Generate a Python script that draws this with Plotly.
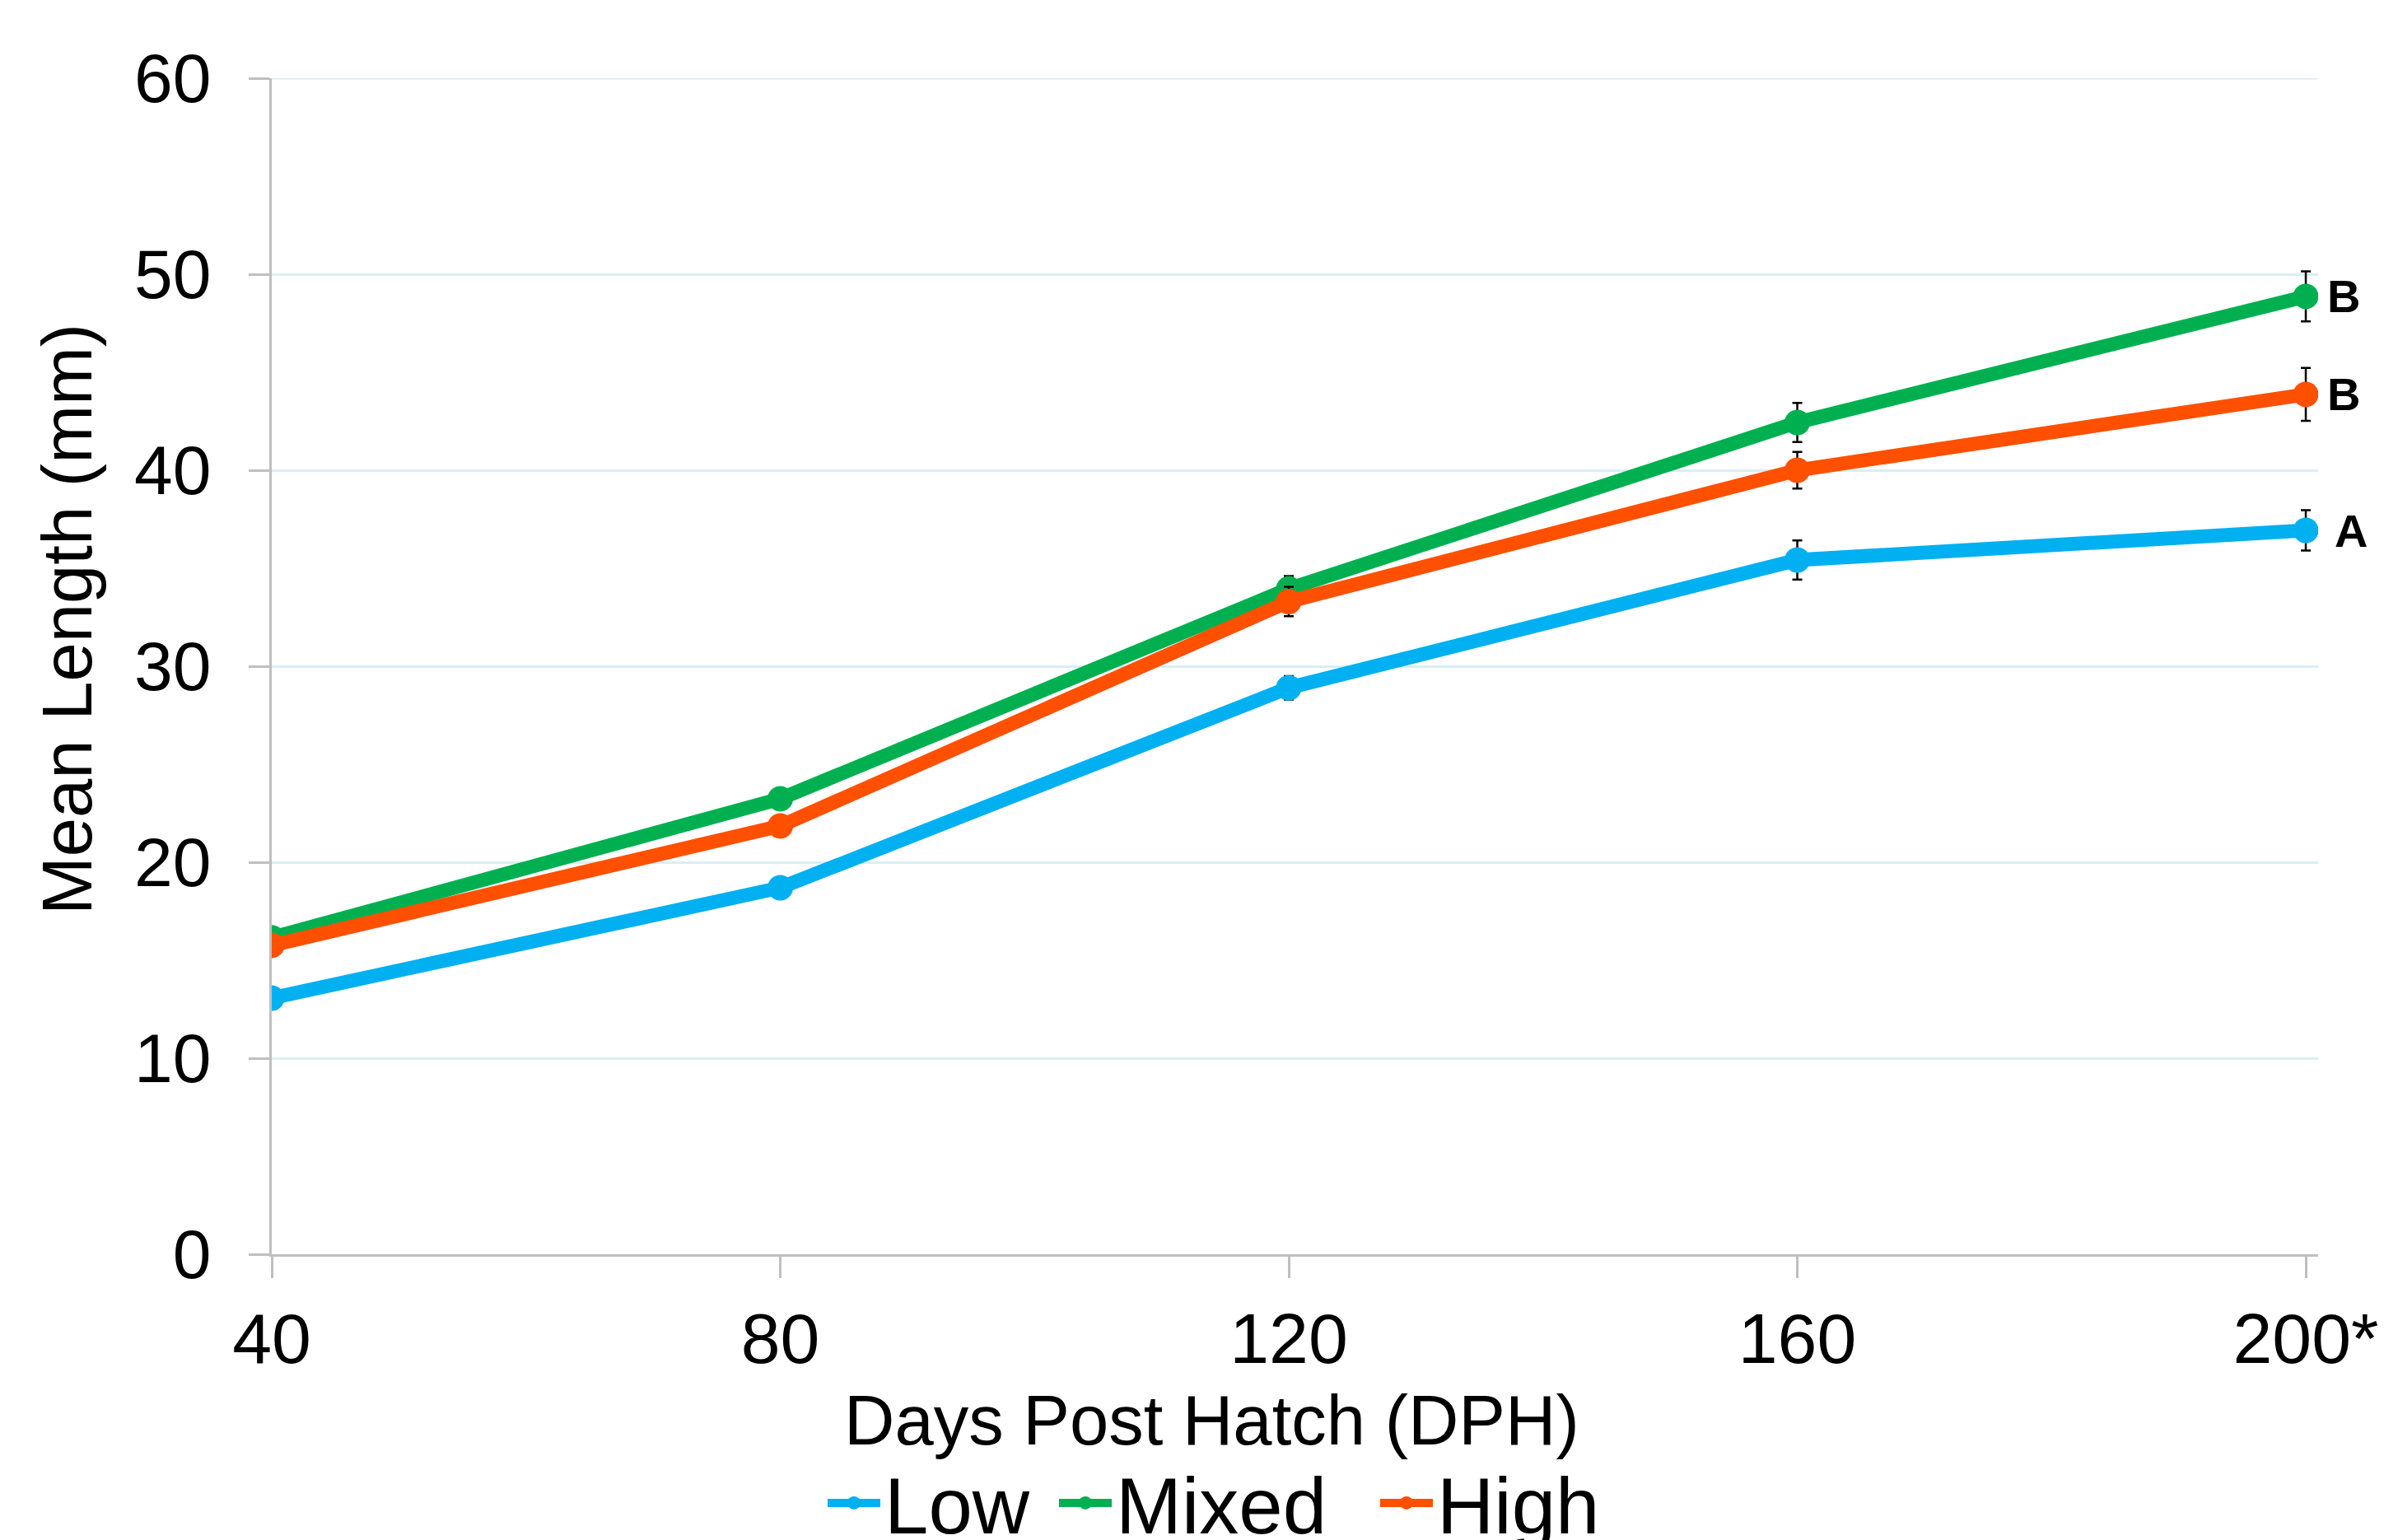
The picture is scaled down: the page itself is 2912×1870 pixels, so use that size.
import plotly.graph_objects as go

# ---- data ----
dph = [40, 80, 120, 160, 200]
dph_labels = ["40", "80", "120", "160", "200*"]
low = [13.07, 18.7, 28.9, 35.42, 36.93]
mixed = [16.15, 23.24, 33.95, 42.44, 48.87]
high = [15.76, 21.85, 33.3, 40.0, 43.87]
low_err = [0.3, 0.3, 0.6, 1.0, 1.03]
mixed_err = [0.3, 0.3, 0.65, 1.0, 1.28]
high_err = [0.3, 0.3, 0.75, 0.94, 1.35]
series_names = ["Low", "Mixed", "High"]
series_vals = [low, mixed, high]
series_errs = [low_err, mixed_err, high_err]
series_colors = ["#00B0F0", "#00B050", "#FF5000"]
group_letters = ["A", "B", "B"]
letter_shift = [33, 24, 24]
y_ticks = [0, 10, 20, 30, 40, 50, 60]

FONT = "Liberation Sans, Arial, sans-serif"
OFF = 8  # default page body margin
L, R, T, B = 330 - OFF, 97, 95 - OFF, 347
W, H = 2912 - OFF, 1870 - OFF
PW = W - L - R
PH = H - T - B

legend_ids = ["legend", "legend2", "legend3"]
legend_left_px = [1000, 1281, 1671]

fig = go.Figure()
for name, vals, errs, col, lg in zip(series_names, series_vals, series_errs,
                                     series_colors, legend_ids):
    fig.add_trace(go.Scatter(
        x=dph, y=vals, name=name, mode="lines+markers",
        line=dict(color=col, width=17),
        marker=dict(color=col, size=31),
        error_y=dict(type="data", array=errs, visible=True,
                     color="black", thickness=2.5, width=6),
        legend=lg,
    ))

annotations = []
for vals, letter, sh in zip(series_vals, group_letters, letter_shift):
    annotations.append(dict(
        x=dph[-1], y=vals[-1], xref="x", yref="y", text="<b>%s</b>" % letter,
        showarrow=False, xanchor="left", yanchor="middle", xshift=sh,
        font=dict(family=FONT, size=56, color="black"),
    ))

# axis titles
annotations.append(dict(
    x=(1471 - 330) / PW, y=-0.141, xref="paper", yref="paper",
    text="Days Post Hatch (DPH)", showarrow=False, xanchor="center", yanchor="middle",
    font=dict(family=FONT, size=85, color="black"),
))
annotations.append(dict(
    x=(81 - 330) / PW, y=(1523 - 752) / PH, xref="paper", yref="paper",
    text="Mean Length (mm)", showarrow=False, xanchor="center", yanchor="middle",
    textangle=-90, font=dict(family=FONT, size=85, color="black"),
))

legend_common = dict(
    orientation="h", xanchor="left", yanchor="middle",
    y=(1523 - 1825) / PH,
    font=dict(family=FONT, size=96, color="black"),
    itemwidth=64, tracegroupgap=0, bgcolor="rgba(0,0,0,0)",
)
legends = {}
for lg, lx in zip(legend_ids, legend_left_px):
    legends[lg] = dict(legend_common, x=(lx - 330) / PW)

fig.update_layout(
    width=W, height=H,
    margin=dict(l=L, r=R, t=T, b=B, autoexpand=False),
    paper_bgcolor="white", plot_bgcolor="white",
    font=dict(family=FONT, color="black"),
    showlegend=True,
    annotations=annotations,
    **legends,
)

# top gridline (at the range edge)
fig.add_shape(type="line", xref="paper", yref="y", x0=0, x1=1,
              y0=y_ticks[-1], y1=y_ticks[-1],
              line=dict(color="#D6ECF4", width=3), layer="above")

fig.update_xaxes(
    range=[40, 200.97], tickmode="array", tickvals=dph, ticktext=dph_labels,
    showgrid=False, zeroline=False, showline=True, linecolor="#BFBFBF", linewidth=2.5,
    ticks="outside", ticklen=26, tickwidth=2.5, tickcolor="#BFBFBF",
    tickfont=dict(family=FONT, size=86, color="black"), ticklabelstandoff=0,
)
fig.update_yaxes(
    range=[0, 60], tickmode="array", tickvals=y_ticks,
    showgrid=True, gridcolor="#D9EEF5", gridwidth=2.5, zeroline=False,
    showline=True, linecolor="#BFBFBF", linewidth=2.5,
    ticks="outside", ticklen=25, tickwidth=2.5, tickcolor="#BFBFBF",
    tickfont=dict(family=FONT, size=84, color="black"), ticklabelstandoff=29,
)

fig.write_html("out.html")
